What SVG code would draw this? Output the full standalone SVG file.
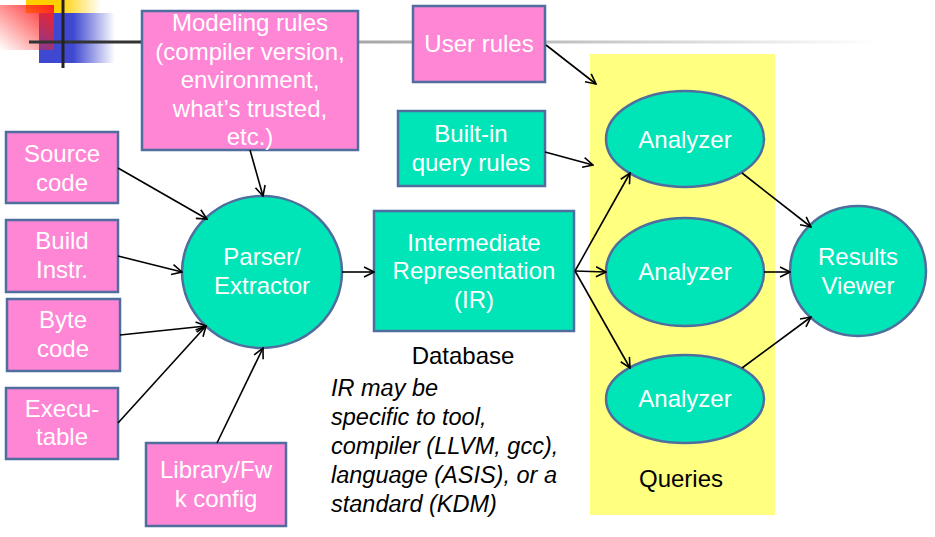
<svg xmlns="http://www.w3.org/2000/svg" width="935" height="537" viewBox="0 0 935 537">
<defs>
<linearGradient id="gRed" x1="1" y1="0" x2="0" y2="1"><stop offset="0" stop-color="#ff2020"/><stop offset="1" stop-color="#ff2020" stop-opacity="0"/></linearGradient>
<linearGradient id="gBlue" x1="0" y1="0" x2="1" y2="0"><stop offset="0.45" stop-color="#3f48d0"/><stop offset="1" stop-color="#3f48d0" stop-opacity="0"/></linearGradient>
<linearGradient id="gYel" x1="0" y1="0" x2="1" y2="0"><stop offset="0.45" stop-color="#ffd000"/><stop offset="1" stop-color="#ffd000" stop-opacity="0"/></linearGradient>
<linearGradient id="gLine" gradientUnits="userSpaceOnUse" x1="140" y1="0" x2="880" y2="0"><stop offset="0" stop-color="#909090"/><stop offset="0.5" stop-color="#b8b8b8"/><stop offset="1" stop-color="#ffffff"/></linearGradient>
<marker id="ah" viewBox="0 0 12 12" refX="11" refY="6" markerWidth="12" markerHeight="12" markerUnits="userSpaceOnUse" orient="auto"><path d="M1,1 L11,6 L1,11" fill="none" stroke="#000" stroke-width="1.6"/></marker>
</defs>
<style>
.pk{fill:#ff85d5;stroke:#4f6e9e;stroke-width:2.5}
.tl{fill:#00e5b8;stroke:#4f6e9e;stroke-width:2.5}
.wt{fill:#fff;font-family:"Liberation Sans",Arial,sans-serif;font-size:24px;text-anchor:middle}
.bk{fill:#000;font-family:"Liberation Sans",Arial,sans-serif;font-size:24px;text-anchor:middle}
.it{fill:#000;font-family:"Liberation Sans",Arial,sans-serif;font-size:23.5px;font-style:italic}
#connectors line{stroke:#000;stroke-width:1.6;marker-end:url(#ah)}
</style>
<rect width="935" height="537" fill="#fff"/>
<g id="decoration">
<rect x="26" y="0" width="75" height="13" fill="url(#gYel)"/>
<rect x="39" y="13" width="76" height="50" fill="url(#gBlue)"/>
<rect x="0" y="5" width="54" height="45" fill="url(#gRed)"/>
<line x1="140" y1="42" x2="880" y2="42" stroke="url(#gLine)" stroke-width="3"/>
<line x1="29" y1="42" x2="142" y2="42" stroke="#333" stroke-width="3"/>
<line x1="63" y1="0" x2="63" y2="68" stroke="#222" stroke-width="3"/>
</g>
<g id="queries-area">
<rect x="590" y="54" width="185" height="461" fill="#ffff80"/>
<text class="bk" x="681" y="487">Queries</text>
</g>
<g id="modeling-rules">
<rect class="pk" x="142" y="11" width="216" height="139"/>
<text class="wt" x="250" y="31">Modeling rules</text>
<text class="wt" x="250" y="60">(compiler version,</text>
<text class="wt" x="250" y="88">environment,</text>
<text class="wt" x="250" y="117">what’s trusted,</text>
<text class="wt" x="250" y="145">etc.)</text>
</g>
<g id="user-rules">
<rect class="pk" x="413" y="6" width="132" height="76"/>
<text class="wt" x="479" y="52">User rules</text>
</g>
<g id="builtin-rules">
<rect class="tl" x="398" y="111" width="147" height="75"/>
<text class="wt" x="471" y="142">Built-in</text>
<text class="wt" x="471" y="171">query rules</text>
</g>
<g id="source-code">
<rect class="pk" x="6" y="132" width="112" height="71"/>
<text class="wt" x="62" y="162">Source</text>
<text class="wt" x="62" y="191">code</text>
</g>
<g id="build-instr">
<rect class="pk" x="6" y="220" width="112" height="72"/>
<text class="wt" x="62" y="249">Build</text>
<text class="wt" x="62" y="278">Instr.</text>
</g>
<g id="byte-code">
<rect class="pk" x="7" y="299" width="113" height="72"/>
<text class="wt" x="63" y="328">Byte</text>
<text class="wt" x="63" y="357">code</text>
</g>
<g id="executable">
<rect class="pk" x="6" y="388" width="112" height="71"/>
<text class="wt" x="62" y="417">Execu-</text>
<text class="wt" x="62" y="445">table</text>
</g>
<g id="library-config">
<rect class="pk" x="146" y="443" width="140" height="83"/>
<text class="wt" x="216" y="478">Library/Fw</text>
<text class="wt" x="216" y="507">k config</text>
</g>
<g id="parser">
<ellipse class="tl" cx="262" cy="272" rx="80" ry="76"/>
<text class="wt" x="262" y="265">Parser/</text>
<text class="wt" x="262" y="294">Extractor</text>
</g>
<g id="ir">
<rect class="tl" x="374" y="211" width="200" height="120"/>
<text class="wt" x="474" y="251">Intermediate</text>
<text class="wt" x="474" y="279">Representation</text>
<text class="wt" x="474" y="308">(IR)</text>
<text class="bk" x="463" y="364">Database</text>
</g>
<g id="ir-note">
<text class="it" x="331" y="396">IR may be</text>
<text class="it" x="331" y="425">specific to tool,</text>
<text class="it" x="331" y="454">compiler (LLVM, gcc),</text>
<text class="it" x="331" y="483">language (ASIS), or a</text>
<text class="it" x="331" y="512">standard (KDM)</text>
</g>
<g id="analyzer1">
<ellipse class="tl" cx="685" cy="139" rx="79" ry="48"/>
<text class="wt" x="685" y="148">Analyzer</text>
</g>
<g id="analyzer2">
<ellipse class="tl" cx="685" cy="272" rx="79" ry="54"/>
<text class="wt" x="685" y="280">Analyzer</text>
</g>
<g id="analyzer3">
<ellipse class="tl" cx="685" cy="399" rx="79" ry="44"/>
<text class="wt" x="685" y="407">Analyzer</text>
</g>
<g id="results-viewer">
<ellipse class="tl" cx="858" cy="271" rx="68" ry="65"/>
<text class="wt" x="858" y="265">Results</text>
<text class="wt" x="858" y="294">Viewer</text>
</g>
<g id="connectors">
<line x1="546" y1="45" x2="596" y2="84"/>
<line x1="545" y1="152" x2="593" y2="165"/>
<line x1="250" y1="150" x2="263" y2="196"/>
<line x1="118" y1="168" x2="207" y2="219"/>
<line x1="118" y1="256" x2="182" y2="272"/>
<line x1="120" y1="335" x2="206" y2="326"/>
<line x1="118" y1="423" x2="206" y2="326"/>
<line x1="217" y1="443" x2="263" y2="348"/>
<line x1="342" y1="272" x2="374" y2="272"/>
<line x1="575" y1="271" x2="630" y2="173"/>
<line x1="575" y1="271" x2="606" y2="272"/>
<line x1="575" y1="271" x2="630" y2="368"/>
<line x1="742" y1="173" x2="811" y2="227"/>
<line x1="764" y1="272" x2="790" y2="272"/>
<line x1="742" y1="368" x2="811" y2="317"/>
</g>
</svg>
